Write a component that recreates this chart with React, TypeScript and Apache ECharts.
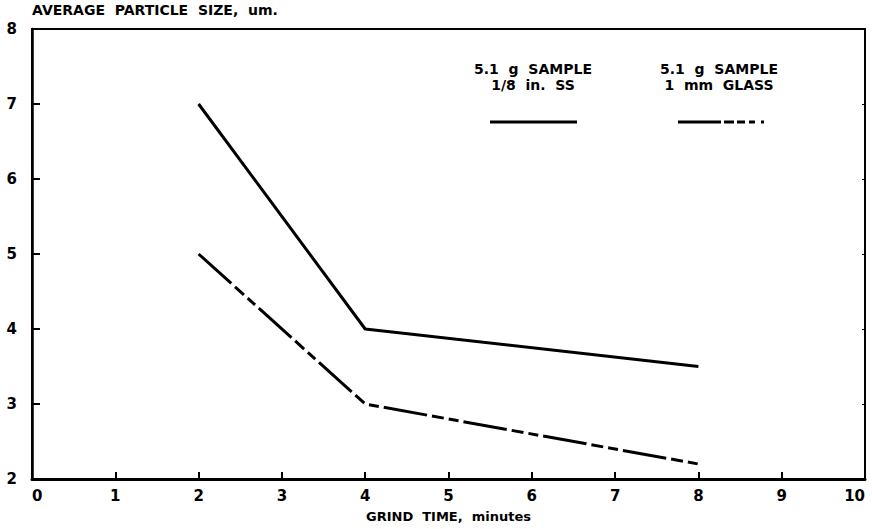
import React, { useEffect, useRef } from "react";
import * as echarts from "echarts";

// Grind time (minutes) and average particle size (um) for the two runs
const grindTimes = [2, 4, 8];
const steelBallSizes = [7.0, 4.0, 3.5]; // 5.1 g sample, 1/8 in. SS
const glassBeadSizes = [5.0, 3.0, 2.2]; // 5.1 g sample, 1 mm glass

const xRange = [0, 10];
const yRange = [2, 8];

const legendSteel = ["5.1  g  SAMPLE", "1/8  in.  SS"];
const legendGlass = ["5.1  g  SAMPLE", "1  mm  GLASS"];

const FONT = "'DejaVu Sans', 'Liberation Sans', Arial, sans-serif";

export default function App() {
  const ref = useRef<HTMLDivElement>(null);

  useEffect(() => {
    if (!ref.current) return;
    const chart = echarts.init(ref.current, undefined, { renderer: "svg" });

    const pts = (ys: number[]) => grindTimes.map((x, i) => [x, ys[i]]);
    const legendText = {
      fill: "#000",
      fontFamily: FONT,
      fontWeight: "bold" as const,
      fontSize: 14,
      lineHeight: 16,
      align: "center" as const,
    };

    chart.setOption({
      animation: false,
      backgroundColor: "#fff",
      grid: {
        left: 32,
        right: 7,
        top: 29,
        bottom: 50,
        show: true,
        borderColor: "#000",
        borderWidth: 2,
        containLabel: false,
        outerBoundsMode: "none",
      },
      xAxis: {
        type: "value",
        min: xRange[0],
        max: xRange[1],
        interval: 1,
        name: "GRIND  TIME,  minutes",
        nameLocation: "middle",
        nameGap: 31,
        nameTextStyle: { color: "#000", fontFamily: FONT, fontWeight: "bold", fontSize: 13 },
        axisLine: { lineStyle: { color: "#000", width: 3 } },
        axisTick: { inside: true, length: 7, lineStyle: { color: "#000", width: 2 } },
        axisLabel: {
          color: "#000",
          fontFamily: FONT,
          fontWeight: "bold",
          fontSize: 15,
          margin: 9,
          alignMinLabel: "left",
          alignMaxLabel: "right",
        },
        splitLine: { show: false },
      },
      yAxis: [
        {
          type: "value",
          min: yRange[0],
          max: yRange[1],
          interval: 1,
          axisLine: { show: true, lineStyle: { color: "#000", width: 2.5 } },
          axisTick: { show: true, inside: true, length: 8, lineStyle: { color: "#000", width: 2 } },
          axisLabel: { color: "#000", fontFamily: FONT, fontWeight: "bold", fontSize: 15, margin: 15 },
          splitLine: { show: false },
        },
        {
          type: "value",
          position: "right",
          min: yRange[0],
          max: yRange[1],
          interval: 1,
          axisLine: { show: true, lineStyle: { color: "#000", width: 2 } },
          axisTick: { show: true, inside: true, length: 3, lineStyle: { color: "#000" } },
          axisLabel: { show: false },
          splitLine: { show: false },
        },
      ],
      series: [
        {
          name: "1/8 in. SS",
          type: "line",
          data: pts(steelBallSizes),
          symbol: "none",
          lineStyle: { color: "#000", width: 3 },
        },
        {
          name: "1 mm GLASS",
          type: "line",
          data: pts(glassBeadSizes),
          symbol: "none",
          lineStyle: { color: "#000", width: 3, type: [44, 5, 12, 5, 10, 5] },
        },
      ],
      graphic: [
        {
          type: "text",
          left: 32,
          top: 3,
          style: {
            text: "AVERAGE  PARTICLE  SIZE,  um.",
            fill: "#000",
            fontFamily: FONT,
            fontWeight: "bold",
            fontSize: 14,
          },
        },
        {
          type: "text",
          x: 533,
          y: 61,
          style: { ...legendText, text: legendSteel.join("\n") },
        },
        {
          type: "line",
          shape: { x1: 490, y1: 122, x2: 577, y2: 122 },
          style: { stroke: "#000", lineWidth: 3 },
        },
        {
          type: "text",
          x: 719,
          y: 61,
          style: { ...legendText, text: legendGlass.join("\n") },
        },
        {
          type: "line",
          shape: { x1: 678, y1: 122, x2: 765, y2: 122 },
          style: { stroke: "#000", lineWidth: 3, lineDash: [43, 3, 10, 3, 8, 4, 6, 6, 3] },
        },
      ],
    });

    return () => chart.dispose();
  }, []);

  return <div ref={ref} style={{ width: 872, height: 529, position: "absolute", left: 0, top: 0 }} />;
}
